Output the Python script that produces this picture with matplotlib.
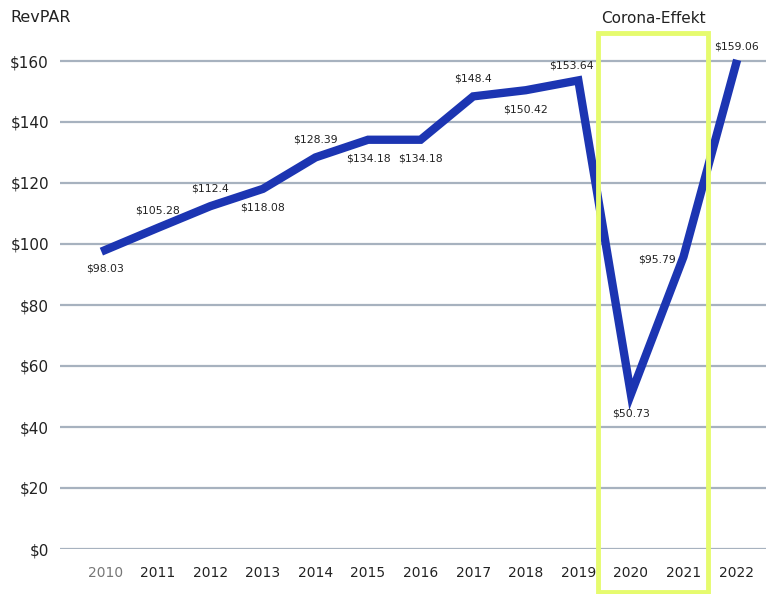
import matplotlib
matplotlib.use('Agg')
import matplotlib.pyplot as plt
from matplotlib.patches import Rectangle

plt.rcParams['font.family'] = ['DejaVu Sans']

# === DATA ===
years = [2010, 2011, 2012, 2013, 2014, 2015, 2016, 2017, 2018, 2019, 2020, 2021, 2022]
revpar = [98.03, 105.28, 112.4, 118.08, 128.39, 134.18, 134.18, 148.4, 150.42, 153.64, 50.73, 95.79, 159.06]
# label placement: 'a' above, 'b' below, 'l' left
label_pos = ['b', 'a', 'a', 'b', 'a', 'b', 'b', 'a', 'b', 'al', 'b', 'l', 'a']
yticks = [0, 20, 40, 60, 80, 100, 120, 140, 160]

C = {
    'line': '#1C35B2',
    'grid': '#A7B2BF',
    'box': '#E6FB6E',
    'text': '#222222',
    'light': '#777777',
}

fig = plt.figure(figsize=(7.66, 5.94), dpi=100)
ax = fig.add_axes([60 / 766, 45 / 594, 706 / 766, 524.6 / 594])
ax.set_xlim(2009.14, 2022.57)
ax.set_ylim(0, 172)

for y in yticks:
    ax.axhline(y, color=C['grid'], lw=1.6, zorder=1)

ax.plot(years, revpar, color=C['line'], lw=6, solid_joinstyle='miter', zorder=3)

for x, v, p in zip(years, revpar, label_pos):
    txt = f'${v:g}'
    if p == 'a':
        ax.annotate(txt, (x, v), xytext=(0, 9), textcoords='offset points',
                    ha='center', va='bottom', fontsize=7.8, color=C['text'])
    elif p == 'b':
        ax.annotate(txt, (x, v), xytext=(0, -10), textcoords='offset points',
                    ha='center', va='top', fontsize=7.8, color=C['text'])
    elif p == 'al':
        ax.annotate(txt, (x, v), xytext=(-5, 7), textcoords='offset points',
                    ha='center', va='bottom', fontsize=7.8, color=C['text'])
    else:
        ax.annotate(txt, (x, v), xytext=(-19, -2), textcoords='offset points',
                    ha='center', va='center', fontsize=7.8, color=C['text'])

ax.set_yticks(yticks)
ax.set_yticklabels([f'${y}' for y in yticks], fontsize=11, color=C['text'])
ax.set_xticks(years)
ax.set_xticklabels([str(y) for y in years], fontsize=10, color=C['text'])
ax.get_xticklabels()[0].set_color(C['light'])
ax.tick_params(length=0, pad=12)
ax.tick_params(axis='y', pad=8)
for s in ax.spines.values():
    s.set_visible(False)

# Corona box
box = Rectangle((2019.38, -14.1), 2.08, 183.3, fill=False, edgecolor=C['box'],
                lw=3.5, clip_on=False, zorder=4)
ax.add_patch(box)
ax.text(2020.42, 171.5, 'Corona-Effekt', ha='center', va='bottom', fontsize=11, color=C['text'])

fig.text(10 / 766, 1 - 18 / 594, 'RevPAR', ha='left', va='center', fontsize=11.5, color=C['text'])

fig.savefig('out.png', dpi=100, facecolor='white')
